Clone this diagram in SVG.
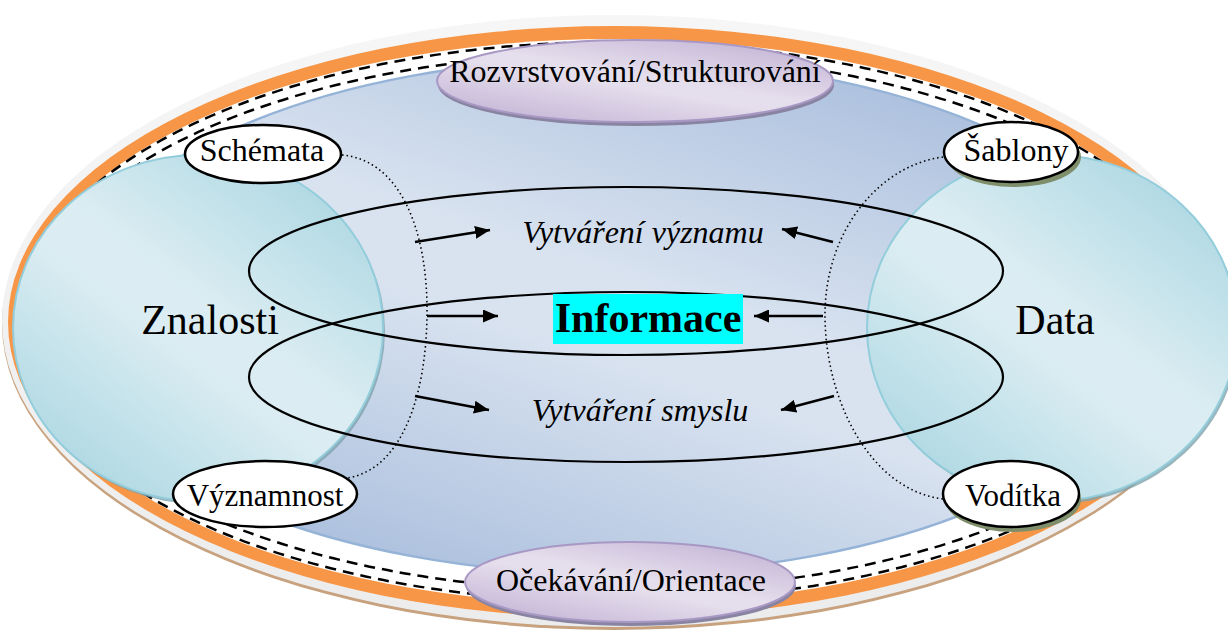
<svg xmlns="http://www.w3.org/2000/svg" width="1228" height="632" viewBox="0 0 1228 632">
<defs>
<style>
.t{font-family:"Liberation Serif","Times New Roman",serif;fill:#000;text-anchor:middle}
.n32{font-size:32px}
.lbl{fill:#fff;stroke:#000;stroke-width:2.5}
.big{fill:none;stroke:#000;stroke-width:2.2}
.dash{fill:none;stroke:#000;stroke-width:2.5;stroke-dasharray:11 7}
.dot{fill:none;stroke:#000;stroke-width:1.6;stroke-dasharray:1.5 3}
.arr{stroke:#000;stroke-width:2.5;marker-end:url(#ah)}
</style>
<linearGradient id="gBlue" x1="0.15" y1="1" x2="0.85" y2="0">
<stop offset="0" stop-color="#a3b9da"/>
<stop offset="0.45" stop-color="#d9e3f0"/>
<stop offset="0.55" stop-color="#d9e3f0"/>
<stop offset="1" stop-color="#a3b9da"/>
</linearGradient>
<linearGradient id="gCyan" x1="0.1" y1="1" x2="0.9" y2="0">
<stop offset="0" stop-color="#a6d4e0"/>
<stop offset="0.45" stop-color="#dbedf2"/>
<stop offset="0.55" stop-color="#dbedf2"/>
<stop offset="1" stop-color="#a6d4e0"/>
</linearGradient>
<linearGradient id="gPur" x1="0.1" y1="1" x2="0.9" y2="0">
<stop offset="0" stop-color="#c1b1d4"/>
<stop offset="0.45" stop-color="#e5deec"/>
<stop offset="0.55" stop-color="#e5deec"/>
<stop offset="1" stop-color="#c1b1d4"/>
</linearGradient>
<linearGradient id="gGray" x1="0" y1="0" x2="0" y2="1">
<stop offset="0" stop-color="#f6f6f6"/>
<stop offset="1" stop-color="#ececec"/>
</linearGradient>
<marker id="ah" viewBox="0 0 15 13" refX="15" refY="6.5" markerWidth="15" markerHeight="13" markerUnits="userSpaceOnUse" orient="auto">
<path d="M0,0 L15,6.5 L0,13 z" fill="#000"/>
</marker>
</defs>

<g id="background">
<ellipse cx="614" cy="324" rx="612" ry="306" fill="#c8a27e"/>
<ellipse cx="614" cy="321" rx="612" ry="306" fill="url(#gGray)"/>
<ellipse cx="614" cy="322" rx="606" ry="296" fill="#f79646"/>
<ellipse cx="614" cy="322" rx="595" ry="283" fill="#ffffff"/>
<ellipse cx="614" cy="322" rx="595" ry="280" class="dash"/>
<ellipse cx="614" cy="322" rx="587" ry="269" class="dash"/>
<ellipse cx="612" cy="316" rx="548" ry="258" fill="url(#gBlue)" stroke="#95b3d7" stroke-width="2.5"/>
</g>

<g id="znalosti">
<ellipse cx="200" cy="331" rx="185" ry="173" fill="#7fa3ad" opacity="0.8"/>
<ellipse cx="198" cy="328" rx="185" ry="173" fill="url(#gCyan)" stroke="#93cddb" stroke-width="2"/>
<text class="t" x="210" y="334" font-size="42">Znalosti</text>
</g>

<g id="data">
<ellipse cx="1054" cy="331" rx="185" ry="173" fill="#7fa3ad" opacity="0.8"/>
<ellipse cx="1052" cy="328" rx="185" ry="173" fill="url(#gCyan)" stroke="#93cddb" stroke-width="2"/>
<text class="t" x="1055" y="334" font-size="42">Data</text>
</g>

<g id="connectors">
<ellipse cx="626" cy="271" rx="377" ry="84" class="big"/>
<ellipse cx="626" cy="377" rx="377" ry="85" class="big"/>
<path class="dot" d="M342,155 C400,160 428,230 427,315 C426,400 400,470 347,478"/>
<path class="dot" d="M943,157 C880,165 825,230 825,315 C825,400 870,490 943,499"/>
<line class="arr" x1="415" y1="242" x2="490" y2="230"/>
<line class="arr" x1="427" y1="316" x2="498" y2="316"/>
<line class="arr" x1="415" y1="396" x2="489" y2="410"/>
<line class="arr" x1="833" y1="242" x2="782" y2="229"/>
<line class="arr" x1="823" y1="316" x2="754" y2="316"/>
<line class="arr" x1="834" y1="396" x2="781" y2="410"/>
</g>

<g id="vytvareni-vyznamu">
<text class="t n32" x="643" y="243" font-style="italic">Vytváření významu</text>
</g>
<g id="informace">
<rect x="553" y="294" width="190" height="50" fill="#00ffff"/>
<text class="t" x="648" y="332" font-size="42" font-weight="bold">Informace</text>
</g>
<g id="vytvareni-smyslu">
<text class="t n32" x="640" y="421" font-style="italic">Vytváření smyslu</text>
</g>

<g id="schemata">
<ellipse cx="263" cy="154" rx="78" ry="29" class="lbl"/>
<text class="t n32" x="262" y="161">Schémata</text>
</g>
<g id="sablony">
<ellipse cx="1014" cy="157" rx="67" ry="30" fill="#7f8f6c"/>
<ellipse cx="1011" cy="152" rx="67" ry="30" class="lbl"/>
<text class="t n32" x="1016" y="161">Šablony</text>
</g>
<g id="vyznamnost">
<ellipse cx="265" cy="494" rx="92" ry="33" class="lbl"/>
<text class="t" x="265" y="506" font-size="31">Významnost</text>
</g>
<g id="voditka">
<ellipse cx="1013" cy="499" rx="68" ry="33" fill="#7f8f6c"/>
<ellipse cx="1011" cy="494" rx="68" ry="33" class="lbl"/>
<text class="t" x="1013" y="506" font-size="31">Vodítka</text>
</g>

<g id="rozvrstvovani">
<ellipse cx="636" cy="85" rx="198" ry="41" fill="#8a84a3"/>
<ellipse cx="635" cy="81" rx="198" ry="41" fill="url(#gPur)" stroke="#a898c4" stroke-width="2"/>
<text class="t n32" x="635" y="82">Rozvrstvování/Strukturování</text>
</g>
<g id="ocekavani">
<ellipse cx="631" cy="586" rx="165" ry="40" fill="#8a84a3"/>
<ellipse cx="630" cy="582" rx="165" ry="40" fill="url(#gPur)" stroke="#a898c4" stroke-width="2"/>
<text class="t n32" x="631" y="591">Očekávání/Orientace</text>
</g>
</svg>
